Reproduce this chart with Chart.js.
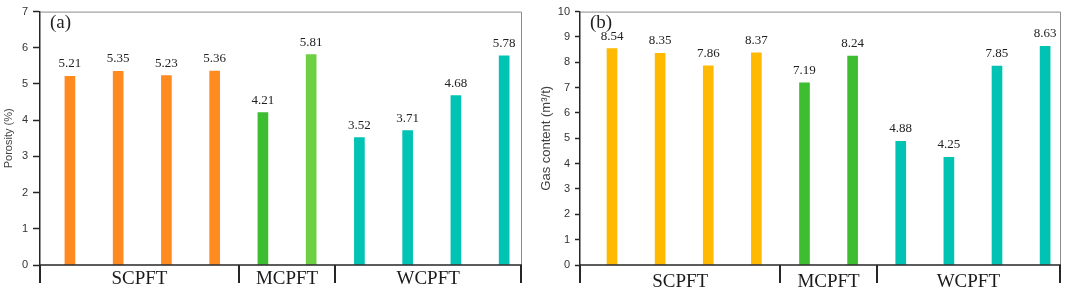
<!DOCTYPE html>
<html>
<head>
<meta charset="utf-8">
<script src="https://cdn.jsdelivr.net/npm/chart.js@4.4.1/dist/chart.umd.min.js"></script>
<style>
    html, body { margin: 0; padding: 0; background: #fff; }
    #wrap { position: relative; width: 1065px; height: 288px; overflow: hidden; }
    canvas { position: absolute; top: 0; }
</style>
</head>
<body>
<div id="wrap">
    <canvas id="porosity-chart" width="530" height="288" style="left:0px"></canvas>
    <canvas id="gas-chart" width="535" height="288" style="left:530px"></canvas>
</div>
<script>
// Sample groups and how many samples fall in each
const groups = ['SCPFT', 'MCPFT', 'WCPFT'];
const groupSizes = [4, 2, 4];

// Porosity (%) per sample, panel (a)
const porosity = [5.21, 5.35, 5.23, 5.36, 4.21, 5.81, 3.52, 3.71, 4.68, 5.78];
// Gas content (m3/t) per sample, panel (b)
const gasContent = [8.54, 8.35, 7.86, 8.37, 7.19, 8.24, 4.88, 4.25, 7.85, 8.63];

// Bar colours
const porosityColors = ['#ff8a1f', '#ff8a1f', '#ff8a1f', '#ff8a1f', '#3dbd30', '#6dd044',
                        '#00c3b3', '#00c3b3', '#00c3b3', '#00c3b3'];
const gasColors = ['#ffb900', '#ffb900', '#ffb900', '#ffb900', '#3dbd30', '#3dbd30',
                   '#00c3b3', '#00c3b3', '#00c3b3', '#00c3b3'];

// Draws the box frame, group separators, group names, value labels and panel letter
const panelDecor = {
    id: 'panelDecor',
    afterDatasetsDraw(chart, args, opts) {
        const ctx = chart.ctx;
        const a = chart.chartArea;
        const x = chart.scales.x;
        const values = chart.data.datasets[0].data;
        ctx.save();

        // top and right frame
        ctx.strokeStyle = '#8c8c8c';
        ctx.lineWidth = 1;
        ctx.beginPath();
        ctx.moveTo(a.left, a.top + 0.5);
        ctx.lineTo(a.right - 0.5, a.top + 0.5);
        ctx.lineTo(a.right - 0.5, a.bottom);
        ctx.stroke();

        // bottom axis line
        ctx.strokeStyle = '#262626';
        ctx.lineWidth = 1.5;
        ctx.beginPath();
        ctx.moveTo(a.left, a.bottom);
        ctx.lineTo(a.right, a.bottom);
        ctx.stroke();

        // separators between groups
        const bounds = [a.left];
        let start = 0;
        groupSizes.forEach((n, i) => {
            start += n;
            bounds.push(i === groupSizes.length - 1 ? a.right - 1 : x.getPixelForValue(start - 0.5));
        });
        ctx.lineWidth = 2;
        bounds.forEach(b => {
            ctx.beginPath();
            ctx.moveTo(Math.round(b), a.bottom);
            ctx.lineTo(Math.round(b), a.bottom + 18);
            ctx.stroke();
        });

        // group names
        ctx.fillStyle = '#1a1a1a';
        ctx.font = '19px "Liberation Serif", serif';
        ctx.textAlign = 'center';
        ctx.textBaseline = 'middle';
        groups.forEach((g, i) => {
            ctx.fillText(g, (bounds[i] + bounds[i + 1]) / 2, opts.groupLabelY);
        });

        // values above the bars
        ctx.font = '13px "Liberation Serif", serif';
        ctx.textBaseline = 'alphabetic';
        ctx.fillStyle = '#222';
        chart.getDatasetMeta(0).data.forEach((bar, i) => {
            ctx.fillText(values[i].y.toFixed(2), bar.x, bar.y - 9);
        });

        // panel letter
        ctx.font = '19px "Liberation Serif", serif';
        ctx.textAlign = 'left';
        ctx.textBaseline = 'middle';
        ctx.fillText(opts.letter, a.left + opts.letterDx, 23);

        ctx.restore();
    }
};

function makePanel(canvasId, values, colors, cfg) {
    const ctx = document.getElementById(canvasId).getContext('2d');
    return new Chart(ctx, {
        type: 'bar',
        data: {
            datasets: [{
                data: values.map((v, i) => ({ x: i, y: v })),
                backgroundColor: colors,
                borderWidth: 0,
                barThickness: 10
            }]
        },
        options: {
            responsive: false,
            animation: false,
            devicePixelRatio: 1,
            layout: { padding: { left: 0, right: cfg.padRight, top: 7, bottom: 23 } },
            scales: {
                x: {
                    type: 'linear',
                    display: false,
                    offset: false,
                    min: cfg.xMin,
                    max: cfg.xMax
                },
                y: {
                    min: 0,
                    max: cfg.yMax,
                    afterFit(scale) { scale.width = cfg.axisWidth; },
                    ticks: {
                        stepSize: 1,
                        color: '#333',
                        padding: 5,
                        font: { family: '"Liberation Sans Narrow", "Liberation Sans", sans-serif', size: 11 }
                    },
                    grid: {
                        drawOnChartArea: false,
                        drawTicks: true,
                        tickLength: cfg.tickLength,
                        tickColor: '#262626',
                        tickWidth: 1.5
                    },
                    border: { display: true, color: '#262626', width: 1.5 },
                    title: {
                        display: true,
                        text: cfg.title,
                        color: '#444',
                        padding: { top: cfg.titlePad, bottom: 0 },
                        font: { family: '"Liberation Sans Narrow", "Liberation Sans", sans-serif', size: cfg.titleSize }
                    }
                }
            },
            plugins: {
                legend: { display: false },
                tooltip: { enabled: false },
                panelDecor: { letter: cfg.letter, letterDx: cfg.letterDx, groupLabelY: cfg.groupLabelY }
            }
        },
        plugins: [panelDecor]
    });
}

makePanel('porosity-chart', porosity, porosityColors, {
    padRight: 8, xMin: -0.62, xMax: 9.37, yMax: 7, axisWidth: 40, tickLength: 7,
    title: 'Porosity (%)', titleSize: 11, titlePad: 2,
    letter: '(a)', letterDx: 10, groupLabelY: 279
});

makePanel('gas-chart', gasContent, gasColors, {
    padRight: 4, xMin: -0.665, xMax: 9.33, yMax: 10, axisWidth: 50, tickLength: 5,
    title: 'Gas content (m³/t)', titleSize: 13, titlePad: 9,
    letter: '(b)', letterDx: 10, groupLabelY: 282
});
</script>
</body>
</html>
